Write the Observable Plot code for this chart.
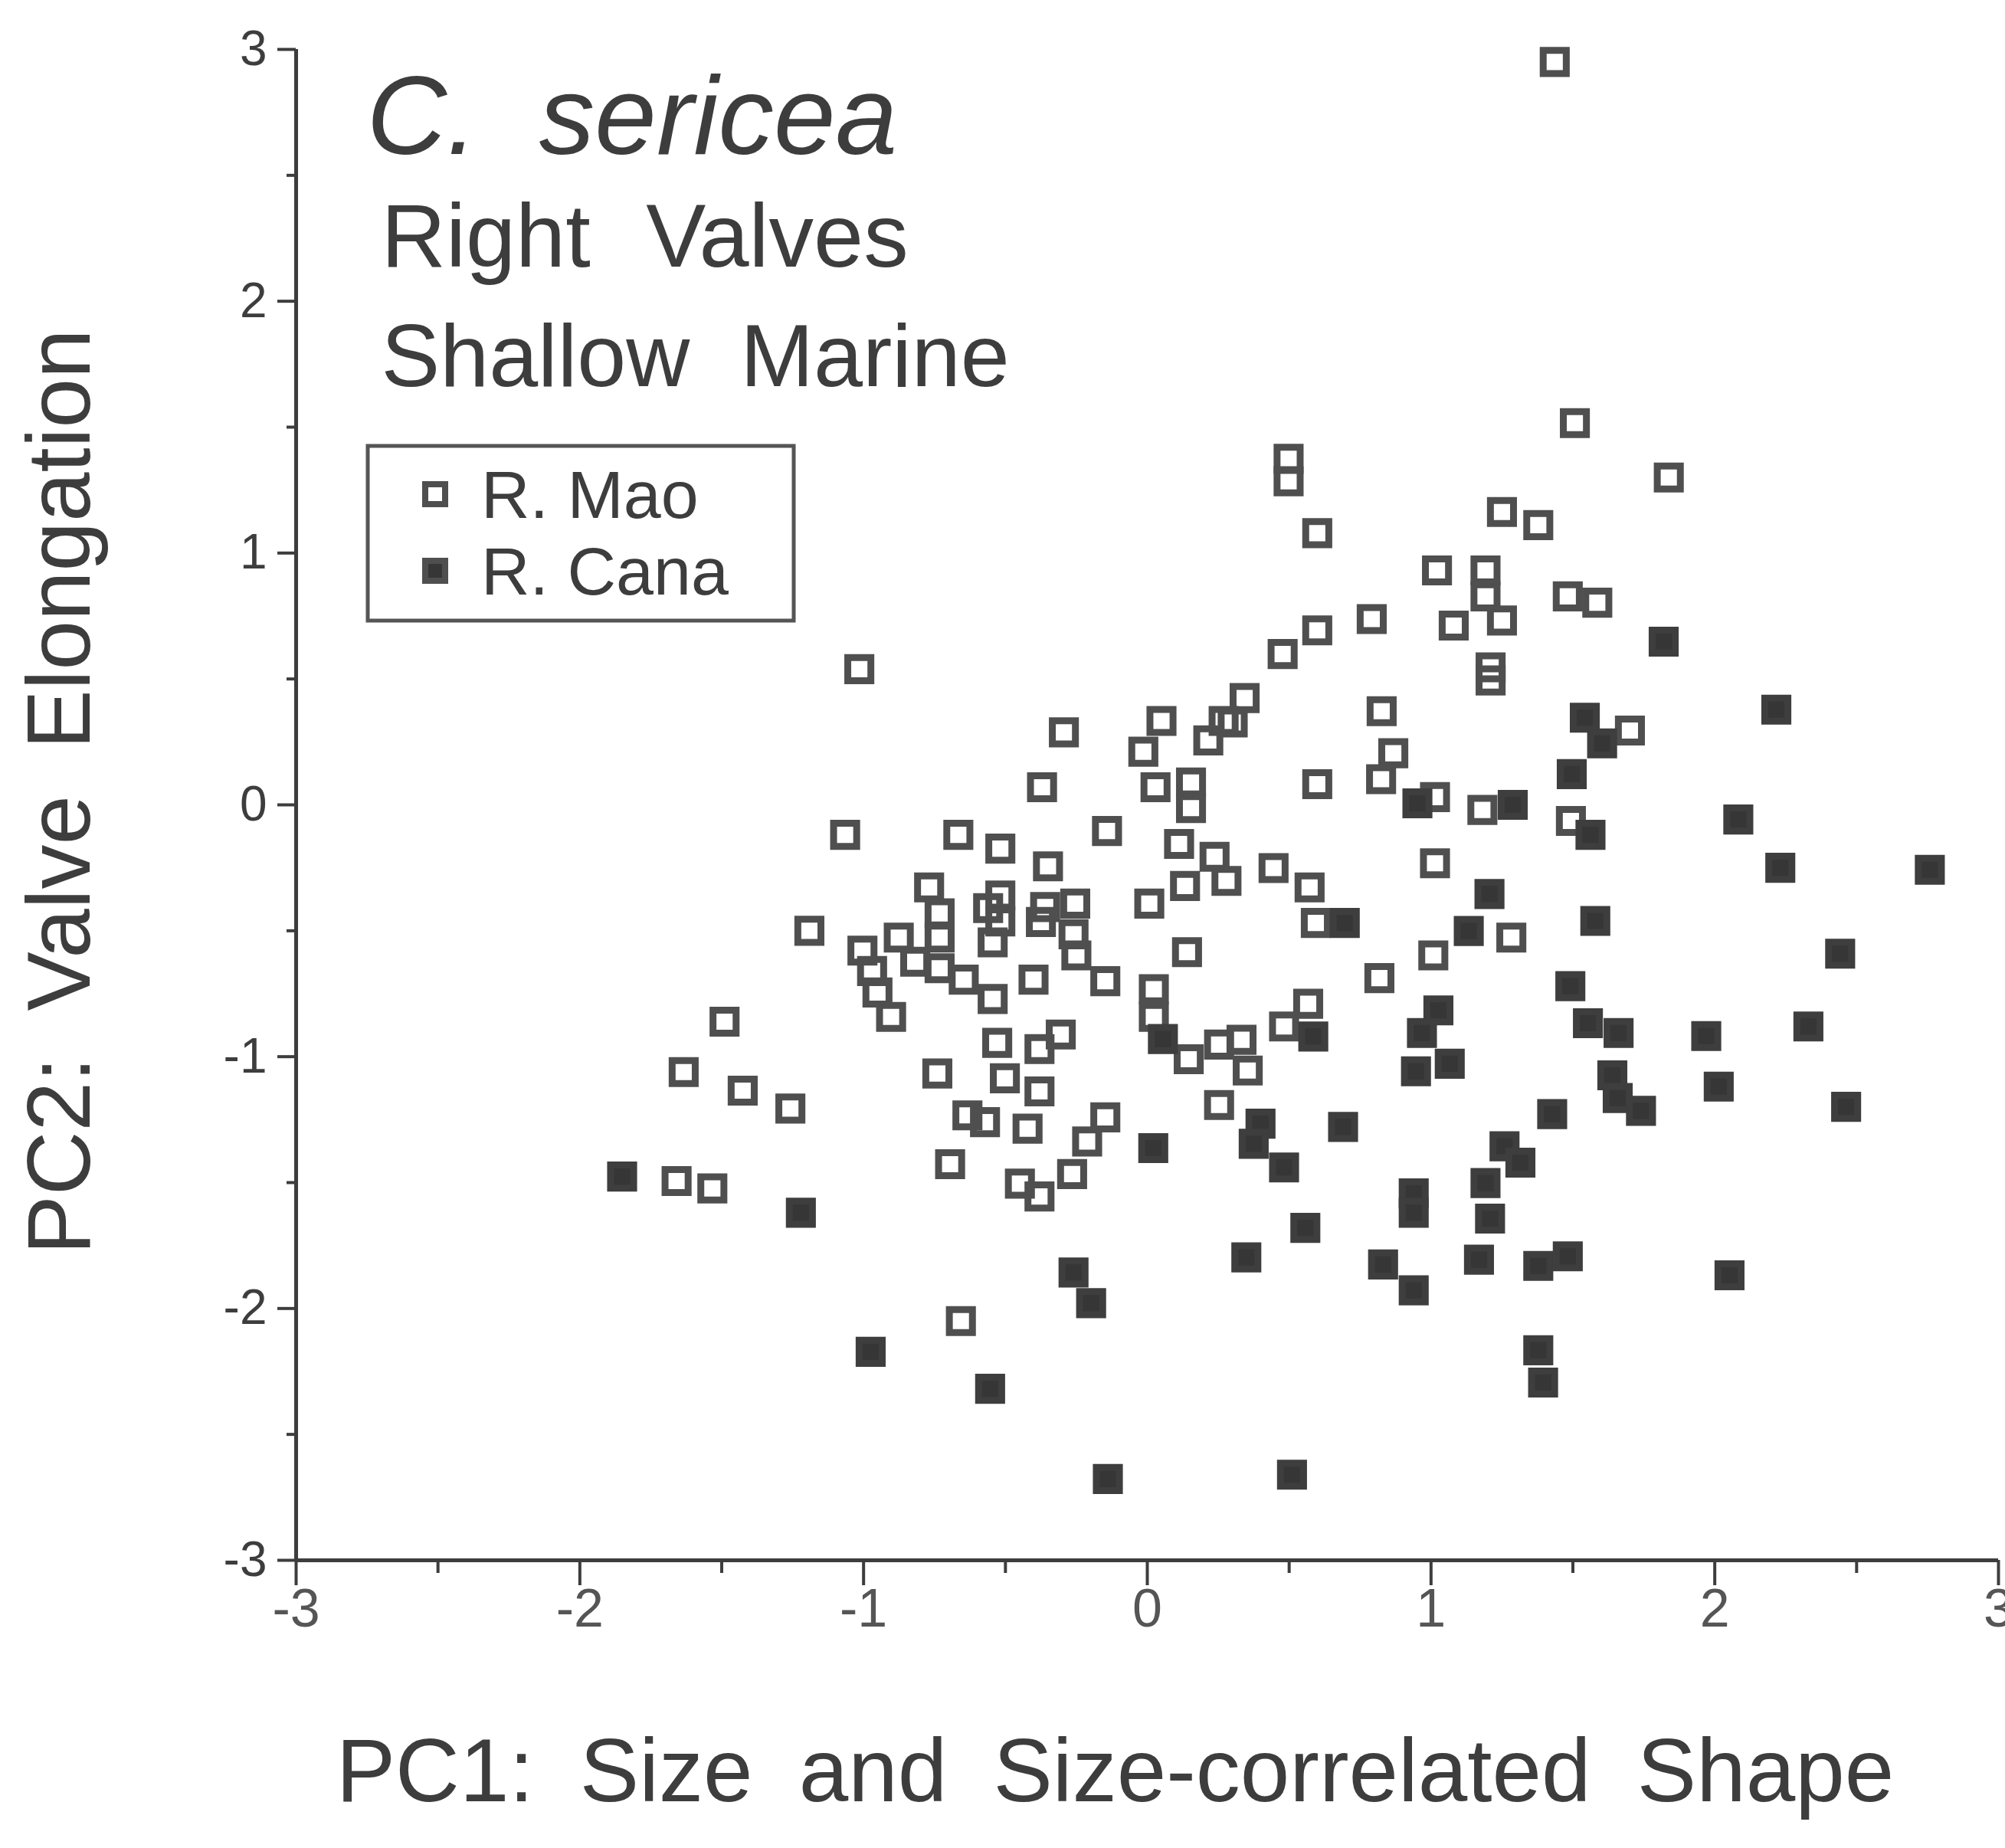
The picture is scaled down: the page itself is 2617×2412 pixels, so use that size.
<!DOCTYPE html>
<html><head><meta charset="utf-8">
<script src="https://cdn.jsdelivr.net/npm/d3@7"></script>
<script src="https://cdn.jsdelivr.net/npm/@observablehq/plot@0.6"></script>
<style>html,body{margin:0;padding:0;background:#fff;overflow:hidden}</style>
</head><body><div id="chart"></div>
<script>
// ---- data ----
const seriesNames = ["R. Mao", "R. Cana"];
const maoPC1 = [1.436,1.507,0.498,0.498,1.838,0.599,1.25,1.378,1.021,1.192,1.192,1.080,1.25,1.482,1.586,0.791,0.599,0.477,-1.015,1.21,1.21,0.343,0.301,0.269,0.215,0.050,-0.014,-0.294,0.826,0.867,1.701,-0.371,0.029,0.154,0.154,0.599,0.824,1.014,1.181,1.493,-1.065,-0.666,-0.518,-0.142,0.112,0.237,-0.350,0.133,0.279,0.445,0.572,1.014,-0.769,-0.518,-0.561,-0.732,-0.254,-0.360,0.007,-0.518,-0.545,-1.191,-0.876,-0.732,-0.375,-0.26,0.594,1.283,-1.004,0.140,1.008,-0.818,-0.732,-0.25,-0.97,-0.647,-0.148,-0.951,-0.545,-0.401,0.023,0.818,0.567,-0.903,-1.49,0.023,-0.305,-0.529,-0.380,0.253,0.332,0.482,0.146,0.354,-0.740,-1.634,-0.502,-0.380,-1.426,-1.258,0.253,-0.634,-0.572,-0.148,-0.422,-0.212,-0.695,-0.265,-0.449,-1.659,-1.533,-0.380,-0.657];
const maoPC2 = [2.95,1.516,1.374,1.285,1.30,1.079,1.163,1.111,0.931,0.931,0.828,0.712,0.732,0.828,0.803,0.738,0.693,0.599,0.539,0.546,0.494,0.424,0.327,0.333,0.256,0.333,0.211,0.288,0.372,0.205,0.295,0.070,0.070,0.089,-0.013,0.082,0.102,0.031,-0.020,-0.064,-0.119,-0.119,-0.174,-0.104,-0.155,-0.206,-0.244,-0.322,-0.302,-0.251,-0.328,-0.232,-0.328,-0.360,-0.41,-0.431,-0.392,-0.406,-0.392,-0.463,-0.546,-0.50,-0.527,-0.527,-0.465,-0.514,-0.469,-0.527,-0.579,-0.585,-0.598,-0.623,-0.649,-0.598,-0.66,-0.694,-0.700,-0.745,-0.771,-0.694,-0.732,-0.688,-0.790,-0.842,-0.861,-0.842,-0.912,-0.945,-0.970,-0.952,-0.933,-0.880,-1.010,-1.055,-1.067,-1.061,-1.086,-1.138,-1.135,-1.206,-1.192,-1.233,-1.260,-1.241,-1.286,-1.337,-1.427,-1.466,-1.504,-1.494,-1.523,-1.555,-2.050];
const canaPC1 = [0.952,1.288,0.696,1.206,1.133,1.026,0.968,0.947,1.066,0.585,0.055,1.820,2.217,1.542,1.603,1.496,1.562,2.083,2.231,2.758,1.579,2.442,1.491,1.553,1.661,1.970,2.330,1.639,1.658,1.740,1.427,2.014,2.463,1.259,1.315,1.192,1.208,1.169,1.378,1.482,2.052,1.378,1.395,0.831,0.939,0.939,0.939,0.557,0.349,0.399,0.375,0.482,0.690,0.021,-0.260,-0.198,-0.139,0.510,-1.851,-1.221,-0.975,-0.554];
const canaPC2 = [0.006,0.0,-0.469,-0.354,-0.501,-0.816,-0.906,-1.058,-1.028,-0.92,-0.93,0.648,0.378,0.346,0.244,0.122,-0.119,-0.058,-0.250,-0.258,-0.461,-0.591,-0.720,-0.867,-0.906,-0.918,-0.880,-1.074,-1.164,-1.215,-1.228,-1.119,-1.199,-1.356,-1.421,-1.502,-1.643,-1.806,-1.831,-1.793,-1.868,-2.166,-2.294,-1.825,-1.928,-1.543,-1.620,-1.680,-1.797,-1.266,-1.346,-1.440,-1.279,-1.363,-1.857,-1.979,-2.677,-2.660,-1.476,-1.620,-2.172,-2.319];
const xTicks = [-3,-2,-1,0,1,2,3];
const yTicks = [-3,-2,-1,0,1,2,3];
const minorTicks = [-2.5,-1.5,-0.5,0.5,1.5,2.5];
const titleLines = ["C. sericea", "Right Valves", "Shallow Marine"];
const xLabel = "PC1: Size and Size-correlated Shape";
const yLabel = "PC2: Valve Elongation";

// ---- build tables ----
const mao = maoPC1.map((x, i) => ({x, y: maoPC2[i], s: seriesNames[0]}));
const cana = canaPC1.map((x, i) => ({x, y: canaPC2[i], s: seriesNames[1]}));

const INK = "#3d3d3d";
const FONT = "'Liberation Sans', Arial, Helvetica, sans-serif";

const plot = Plot.plot({
  width: 2617, height: 2412,
  marginLeft: 386, marginRight: 9, marginTop: 64, marginBottom: 376,
  x: {domain: [-3, 3]},
  y: {domain: [-3, 3]},
  style: {fontFamily: FONT, background: "#fff", color: INK, overflow: "visible"},
  marks: [
    Plot.axisY({ticks: yTicks, tickSize: 24, tickPadding: 14, fontSize: 64, strokeWidth: 4, label: null, tickFormat: d => String(d)}),
    Plot.axisY({ticks: minorTicks, tickSize: 12, strokeWidth: 4, text: null, label: null}),
    Plot.axisX({ticks: xTicks, tickSize: 33, tickPadding: 4, fontSize: 70, strokeWidth: 4, fill: "#555", label: null, tickFormat: d => String(d)}),
    Plot.axisX({ticks: minorTicks, tickSize: 17, strokeWidth: 4, text: null, label: null}),
    Plot.ruleX([-3], {stroke: INK, strokeWidth: 5}),
    Plot.ruleY([-3], {stroke: INK, strokeWidth: 5}),
    Plot.dot(mao, {x: "x", y: "y", symbol: "square", r: 17, fill: "none", stroke: "#4f4f4f", strokeWidth: 9}),
    Plot.dot(cana, {x: "x", y: "y", symbol: "square", r: 17, fill: "#363636", stroke: "#3e3e3e", strokeWidth: 9}),
    Plot.text([titleLines[0]], {frameAnchor: "top-left", dx: 92, dy: 90, text: d => d, fontSize: 145, fontStyle: "italic", textAnchor: "start", lineAnchor: "middle", fill: INK}),
    Plot.text([titleLines[1]], {frameAnchor: "top-left", dx: 111, dy: 246, text: d => d, fontSize: 117, textAnchor: "start", lineAnchor: "middle", fill: INK}),
    Plot.text([titleLines[2]], {frameAnchor: "top-left", dx: 111, dy: 403, text: d => d, fontSize: 115, textAnchor: "start", lineAnchor: "middle", fill: INK}),
    Plot.text([xLabel], {frameAnchor: "bottom", dx: -42, dy: 277, text: d => d, fontSize: 116, textAnchor: "middle", lineAnchor: "middle", fill: INK}),
    Plot.text([yLabel], {frameAnchor: "left", dx: -307, dy: -17, rotate: -90, text: d => d, fontSize: 116, textAnchor: "middle", lineAnchor: "middle", fill: INK})
  ]
});
document.getElementById("chart").appendChild(plot);

// wide word spacing, as in the typeset original
const spacing = new Map([[titleLines[0], 40], [titleLines[1], 40], [titleLines[2], 34], [xLabel, 28], [yLabel, 28]]);
d3.select(plot).selectAll("text").each(function() {
  const w = spacing.get(this.textContent);
  if (w != null) this.style.wordSpacing = w + "px";
});

// ---- legend box ----
const svg = d3.select(plot);
const lg = svg.append("g").attr("text-anchor", "start");
lg.append("rect").attr("x", 480).attr("y", 582).attr("width", 556).attr("height", 228)
  .attr("fill", "none").attr("stroke", "#555").attr("stroke-width", 5);
const items = [{name: seriesNames[0], filled: false, cy: 645}, {name: seriesNames[1], filled: true, cy: 745}];
items.forEach(it => {
  lg.append("rect").attr("x", 568 - 13).attr("y", it.cy - 13).attr("width", 26).attr("height", 26)
    .attr("fill", it.filled ? "#363636" : "none").attr("stroke", "#4f4f4f").attr("stroke-width", 8);
  lg.append("text").attr("x", 628).attr("y", it.cy + 31).attr("font-size", 88)
    .attr("text-anchor", "start").attr("font-family", FONT).attr("fill", INK).text(it.name);
});
</script>
</body></html>
